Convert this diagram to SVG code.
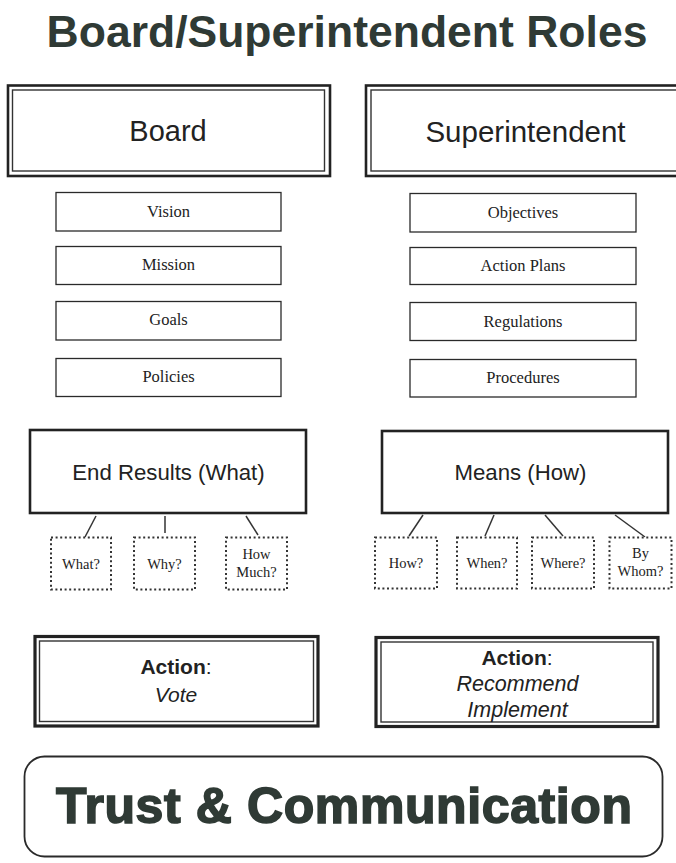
<svg xmlns="http://www.w3.org/2000/svg" width="676" height="863" viewBox="0 0 676 863">
<style>
.bg{fill:#ffffff}
.box{fill:#ffffff;stroke:#2a2a2a;stroke-width:1.3}
.thick{fill:#ffffff;stroke:#222;stroke-width:2.6}
.outer{fill:#ffffff;stroke:#222;stroke-width:2.6}
.inner{fill:none;stroke:#333;stroke-width:1.4}
.aouter{fill:#ffffff;stroke:#222;stroke-width:3.2}
.dot{fill:#ffffff;stroke:#333;stroke-width:2;stroke-dasharray:2 2.6}
.conn{stroke:#333;stroke-width:1.5;fill:none}
.sans{font-family:"Liberation Sans",Arial,sans-serif;fill:#222;text-anchor:middle}
.serif{font-family:"Liberation Serif","Times New Roman",serif;fill:#222;text-anchor:middle}
.head{font-family:"Liberation Sans",Arial,sans-serif;font-weight:bold;fill:#2f3a35;text-anchor:middle}
</style>
<rect class="bg" x="0" y="0" width="676" height="863"/>
<g id="title"><text class="head" x="347" y="47" font-size="44.5">Board/Superintendent Roles</text></g>

<g id="board">
<rect class="outer" x="8" y="85.5" width="322" height="90.5"/>
<rect class="inner" x="12.5" y="90" width="312" height="81"/>
<text class="sans" x="168" y="141" font-size="29">Board</text>
</g>
<g id="superintendent">
<rect class="outer" x="366" y="85.5" width="320" height="90.5"/>
<rect class="inner" x="371" y="90" width="310" height="81"/>
<text class="sans" x="525.5" y="142" font-size="29.5">Superintendent</text>
</g>

<g id="vision"><rect class="box" x="56" y="192.5" width="225" height="38.5"/><text class="serif" x="168.5" y="216.5" font-size="16.5">Vision</text></g>
<g id="mission"><rect class="box" x="56" y="246.5" width="225" height="38"/><text class="serif" x="168.5" y="270" font-size="16.5">Mission</text></g>
<g id="goals"><rect class="box" x="56" y="301.5" width="225" height="38.5"/><text class="serif" x="168.5" y="325" font-size="16.5">Goals</text></g>
<g id="policies"><rect class="box" x="56" y="358.5" width="225" height="38"/><text class="serif" x="168.5" y="382" font-size="16.5">Policies</text></g>

<g id="objectives"><rect class="box" x="410" y="193.5" width="226" height="38.5"/><text class="serif" x="523" y="217.5" font-size="16.5">Objectives</text></g>
<g id="actionplans"><rect class="box" x="410" y="247.5" width="226" height="37"/><text class="serif" x="523" y="271" font-size="16.5">Action Plans</text></g>
<g id="regulations"><rect class="box" x="410" y="302.5" width="226" height="38"/><text class="serif" x="523" y="326.5" font-size="16.5">Regulations</text></g>
<g id="procedures"><rect class="box" x="410" y="359.5" width="226" height="37.5"/><text class="serif" x="523" y="383" font-size="16.5">Procedures</text></g>

<g id="endresults"><rect class="thick" x="30" y="430" width="276" height="83"/><text class="sans" x="168.5" y="480" font-size="22.2">End Results (What)</text></g>
<g id="means"><rect class="thick" x="382" y="431" width="286" height="82"/><text class="sans" x="520.5" y="480" font-size="22.2">Means (How)</text></g>

<g id="connectors">
<line class="conn" x1="96" y1="516" x2="85" y2="537"/>
<line class="conn" x1="165" y1="516" x2="165" y2="533"/>
<line class="conn" x1="246" y1="516" x2="258" y2="535"/>
<line class="conn" x1="423" y1="515" x2="409" y2="536"/>
<line class="conn" x1="494" y1="515" x2="485" y2="536"/>
<line class="conn" x1="545" y1="515" x2="563" y2="536"/>
<line class="conn" x1="615" y1="515" x2="645" y2="537"/>
</g>

<g id="what"><rect class="dot" x="51" y="537.5" width="60" height="52"/><text class="serif" x="81" y="568.5" font-size="14.5">What?</text></g>
<g id="why"><rect class="dot" x="134" y="537.5" width="61" height="52"/><text class="serif" x="164.5" y="568.5" font-size="14.5">Why?</text></g>
<g id="howmuch"><rect class="dot" x="226" y="537.5" width="61" height="52"/><text class="serif" x="256.5" y="559" font-size="14.5">How</text><text class="serif" x="256.5" y="577" font-size="14.5">Much?</text></g>

<g id="how"><rect class="dot" x="375" y="537.5" width="62" height="51"/><text class="serif" x="406" y="568" font-size="14.5">How?</text></g>
<g id="when"><rect class="dot" x="457" y="537.5" width="60" height="51"/><text class="serif" x="487" y="568" font-size="14.5">When?</text></g>
<g id="where"><rect class="dot" x="532" y="537.5" width="62" height="51"/><text class="serif" x="563" y="568" font-size="14.5">Where?</text></g>
<g id="bywhom"><rect class="dot" x="609.5" y="537.5" width="62" height="51"/><text class="serif" x="640.5" y="558" font-size="14.5">By</text><text class="serif" x="640.5" y="576" font-size="14.5">Whom?</text></g>

<g id="action-board">
<rect class="aouter" x="35" y="636.5" width="283" height="89.5"/>
<rect class="inner" x="39.5" y="641" width="274" height="80.5"/>
<text class="sans" x="176" y="674" font-size="21"><tspan font-weight="bold">Action</tspan>:</text>
<text class="sans" x="176" y="702" font-size="21" font-style="italic">Vote</text>
</g>
<g id="action-superintendent">
<rect class="aouter" x="376" y="637.5" width="282" height="89"/>
<rect class="inner" x="381" y="642" width="272" height="80"/>
<text class="sans" x="517" y="665" font-size="21"><tspan font-weight="bold">Action</tspan>:</text>
<text class="sans" x="517.5" y="691" font-size="21.5" font-style="italic">Recommend</text>
<text class="sans" x="517.5" y="717" font-size="21.5" font-style="italic">Implement</text>
</g>

<g id="trust">
<rect x="24.5" y="756.5" width="638" height="100" rx="20" ry="20" fill="#ffffff" stroke="#2a2a2a" stroke-width="1.8"/>
<text class="head" x="344" y="823" font-size="50" stroke="#2f3a35" stroke-width="1.6" textLength="576">Trust &amp; Communication</text>
</g>
</svg>
